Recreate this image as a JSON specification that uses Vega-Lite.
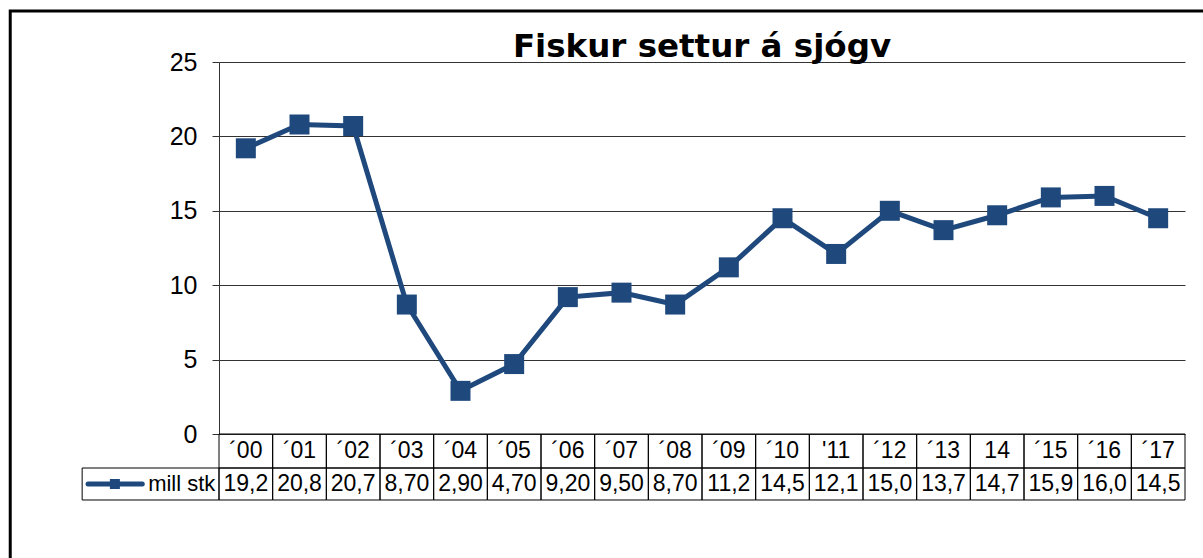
{
  "$schema": "https://vega.github.io/schema/vega-lite/v6.json",
  "width": 966,
  "height": 372,
  "autosize": {"type": "none"},
  "padding": {"left": 219, "top": 62, "right": 18, "bottom": 124},
  "background": "white",
  "title": {"text": "Fiskur settur á sjógv", "font": "DejaVu Sans", "fontSize": 32.5, "fontWeight": "bold", "color": "black", "anchor": "middle", "baseline": "alphabetic", "offset": -80.5},
  "config": {
    "view": {"stroke": null},
    "locale": {"number": {"decimal": ",", "thousands": ".", "grouping": [3], "currency": ["", " kr."]}}
  },
  "data": {"values": [
    {"label": "´00", "value": 19.2},
    {"label": "´01", "value": 20.8},
    {"label": "´02", "value": 20.7},
    {"label": "´03", "value": 8.7},
    {"label": "´04", "value": 2.9},
    {"label": "´05", "value": 4.7},
    {"label": "´06", "value": 9.2},
    {"label": "´07", "value": 9.5},
    {"label": "´08", "value": 8.7},
    {"label": "´09", "value": 11.2},
    {"label": "´10", "value": 14.5},
    {"label": "'11", "value": 12.1},
    {"label": "´12", "value": 15.0},
    {"label": "´13", "value": 13.7},
    {"label": "14", "value": 14.7},
    {"label": "´15", "value": 15.9},
    {"label": "´16", "value": 16.0},
    {"label": "´17", "value": 14.5}
  ]},
  "layer": [
    {
      "layer": [
        {
          "mark": {"type": "line", "color": "#1F497D", "strokeWidth": 5},
          "encoding": {
            "x": {"field": "label", "type": "ordinal", "sort": null, "bandPosition": 0.5, "scale": {"type": "band", "paddingInner": 0, "paddingOuter": 0}, "axis": null},
            "y": {"field": "value", "type": "quantitative", "scale": {"domain": [0, 25], "nice": false, "zero": true},
              "axis": {"values": [0, 5, 10, 15, 20, 25], "title": null, "grid": true, "gridColor": "#333333", "gridWidth": 1, "domainColor": "#333333", "domainWidth": 1, "tickColor": "#333333", "tickSize": 7, "labelFont": "Liberation Sans", "labelFontSize": 25, "labelColor": "black", "labelPadding": 15}}
          }
        },
        {
          "mark": {"type": "point", "shape": "square", "filled": true, "opacity": 1, "color": "#1F497D", "size": 400},
          "encoding": {
            "x": {"field": "label", "type": "ordinal", "sort": null, "bandPosition": 0.5},
            "y": {"field": "value", "type": "quantitative"}
          }
        },
        {
          "mark": {"type": "rect", "fillOpacity": 0, "stroke": "black", "strokeWidth": 1},
          "encoding": {
            "x": {"field": "label", "type": "ordinal", "sort": null},
            "y": {"datum": 0, "type": "quantitative"},
            "y2": {"datum": -2.285}
          }
        },
        {
          "mark": {"type": "rect", "fillOpacity": 0, "stroke": "black", "strokeWidth": 1},
          "encoding": {
            "x": {"field": "label", "type": "ordinal", "sort": null},
            "y": {"datum": -2.285, "type": "quantitative"},
            "y2": {"datum": -4.435}
          }
        },
        {
          "mark": {"type": "text", "font": "Liberation Sans", "fontSize": 23, "color": "black", "align": "center", "baseline": "middle"},
          "encoding": {
            "x": {"field": "label", "type": "ordinal", "sort": null, "bandPosition": 0.5},
            "y": {"datum": -1.14, "type": "quantitative"},
            "text": {"field": "label"}
          }
        },
        {
          "mark": {"type": "text", "font": "Liberation Sans", "fontSize": 23, "color": "black", "align": "center", "baseline": "middle"},
          "encoding": {
            "x": {"field": "label", "type": "ordinal", "sort": null, "bandPosition": 0.5},
            "y": {"datum": -3.36, "type": "quantitative"},
            "text": {"field": "value", "type": "quantitative", "format": ".3r"}
          }
        }
      ]
    },
    {
      "data": {"values": [{"series": "mill stk"}]},
      "layer": [
        {
          "mark": {"type": "rect", "fillOpacity": 0, "stroke": "black", "strokeWidth": 1},
          "encoding": {
            "x": {"datum": -3.05, "type": "quantitative", "scale": {"domain": [-0.5, 17.5], "nice": false, "zero": false}, "axis": null},
            "x2": {"datum": -0.5},
            "y": {"datum": -2.285, "type": "quantitative"},
            "y2": {"datum": -4.435}
          }
        },
        {
          "mark": {"type": "rule", "color": "#1F497D", "strokeWidth": 5, "strokeCap": "round"},
          "encoding": {
            "x": {"datum": -2.94, "type": "quantitative"},
            "x2": {"datum": -1.93},
            "y": {"datum": -3.36, "type": "quantitative"}
          }
        },
        {
          "mark": {"type": "point", "shape": "square", "filled": true, "opacity": 1, "color": "#1F497D", "size": 100},
          "encoding": {
            "x": {"datum": -2.44, "type": "quantitative"},
            "y": {"datum": -3.36, "type": "quantitative"}
          }
        },
        {
          "mark": {"type": "text", "font": "Liberation Sans", "fontSize": 22, "color": "black", "align": "left", "baseline": "middle"},
          "encoding": {
            "x": {"datum": -1.82, "type": "quantitative"},
            "y": {"datum": -3.36, "type": "quantitative"},
            "text": {"field": "series"}
          }
        },
        {
          "mark": {"type": "rect", "fillOpacity": 0, "stroke": "black", "strokeWidth": 3},
          "encoding": {
            "x": {"datum": -4.39, "type": "quantitative"},
            "x2": {"datum": 19.5},
            "y": {"datum": 28.43, "type": "quantitative"},
            "y2": {"datum": -15}
          }
        }
      ]
    }
  ],
  "resolve": {"scale": {"x": "independent"}}
}
